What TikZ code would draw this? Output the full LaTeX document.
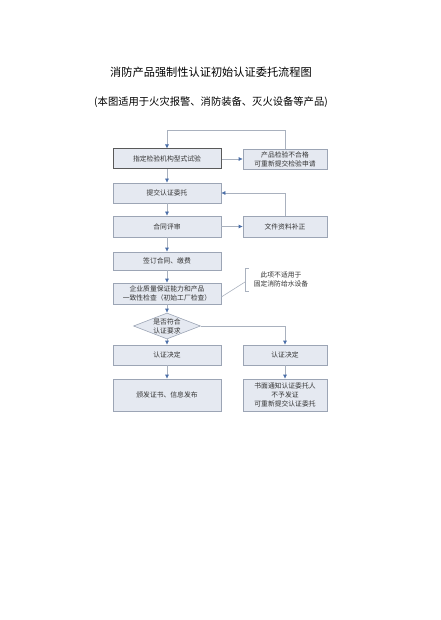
\documentclass[tikz,border=0pt]{standalone}
\usepackage{fontspec}
\setmainfont{Noto Sans CJK SC}
\usetikzlibrary{arrows.meta,shapes.geometric}
\definecolor{boxfill}{HTML}{E5E9F1}
\definecolor{boxline}{HTML}{9CA5B5}
\definecolor{linegray}{HTML}{A9B1BE}
\definecolor{tipblue}{HTML}{4A6EA8}
\definecolor{txt}{HTML}{333333}
\begin{document}
\begin{tikzpicture}[x=1pt, y=-1pt,
    flowbox/.style={draw=boxline, fill=boxfill, line width=0.6pt, text=txt,
        font=\fontsize{6.8}{9}\selectfont, align=center, inner sep=0pt},
    leftbox/.style={flowbox, minimum width=108pt},
    rightbox/.style={flowbox, minimum width=84pt},
    decision/.style={diamond, draw=boxline, fill=boxfill, line width=0.6pt, text=txt,
        font=\fontsize{6.8}{9}\selectfont, align=center, inner sep=0pt,
        minimum width=67pt, minimum height=26pt, aspect=2.6},
    conn/.style={draw=linegray, line width=0.6pt,
        -{Latex[color=tipblue, length=4pt, width=4pt]}},
    plain/.style={draw=linegray, line width=0.6pt}]
\useasboundingbox (0,0) rectangle (440,620);
% titles
\node (title) at (211,72) {\fontsize{11.2}{13}\selectfont 消防产品强制性认证初始认证委托流程图};
\node (subtitle) at (211,102) {\fontsize{10.3}{12}\selectfont (本图适用于火灾报警、消防装备、灭火设备等产品)};
% left column
\node (b1) at (167,159) [leftbox, minimum height=20pt, draw=black!65, line width=1pt] {指定检验机构型式试验};
\node (b2) at (167,193) [leftbox, minimum height=20pt] {提交认证委托};
\node (b3) at (167,226.5) [leftbox, minimum height=21pt] {合同评审};
\node (b4) at (167,261) [leftbox, minimum height=18pt] {签订合同、缴费};
\node (b5) at (167,293.5) [leftbox, minimum height=21pt] {企业质量保证能力和产品\\一致性检查（初始工厂检查）};
\node (d) at (167,326) [decision] {是否符合\\认证要求};
\node (b6) at (167,355) [leftbox, minimum height=20pt] {认证决定};
\node (b7) at (167,395) [leftbox, minimum height=32pt] {颁发证书、信息发布};
% right column
\node (r1) at (285,159) [rightbox, minimum height=20pt] {产品检验不合格\\可重新提交检验申请};
\node (r3) at (285,226.5) [rightbox, minimum height=21pt] {文件资料补正};
\node (r6) at (285,355) [rightbox, minimum height=20pt] {认证决定};
\node (r7) at (285,395) [rightbox, minimum height=32pt] {书面通知认证委托人\\不予发证\\可重新提交认证委托};
% note
\node (note) at (281,279.5) [text=txt, font=\fontsize{6.8}{9}\selectfont, align=center] {此项不适用于\\固定消防给水设备};
\coordinate (nt) at (249,268);
\coordinate (nb) at (249,291);
\draw[plain] (nt) -- ++(-4,0) |- (nb);
\draw[plain] (b5.east |- 0,297) -- (245,282);
% connectors
\draw[conn] (r1.north) -- ++(0,-18) -| (b1.north);
\draw[conn] (b1) -- (r1);
\draw[conn] (b1) -- (b2);
\draw[conn] (b2) -- (b3);
\draw[conn] (b3) -- (r3);
\draw[conn] (r3.north) |- (b2.east);
\draw[conn] (b3) -- (b4);
\draw[conn] (b4) -- (b5);
\draw[conn] (b5) -- (d);
\draw[conn] (d) -- (b6);
\draw[conn] (d.east) -| (r6.north);
\draw[conn] (b6) -- (b7);
\draw[conn] (r6) -- (r7);
\end{tikzpicture}
\end{document}
